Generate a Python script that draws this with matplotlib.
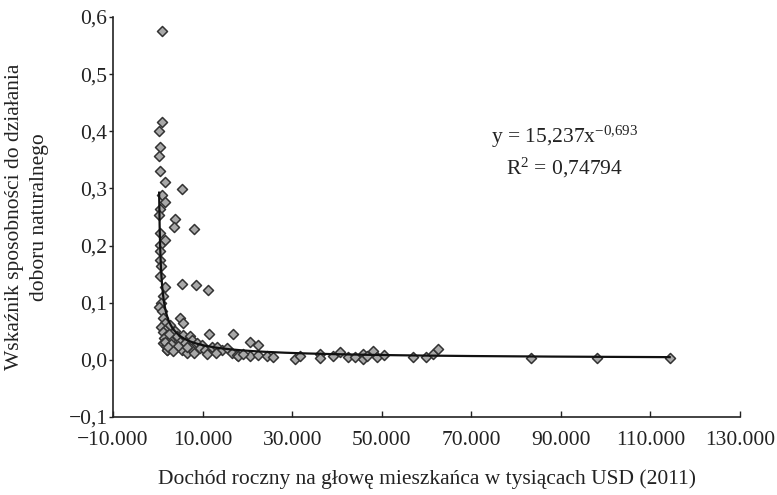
import numpy as np
import matplotlib
matplotlib.use("Agg")
import matplotlib.pyplot as plt
from matplotlib.ticker import FuncFormatter

plt.rcParams['font.family'] = ['Liberation Serif', 'DejaVu Serif']
plt.rcParams['mathtext.fontset'] = 'custom'
plt.rcParams['mathtext.rm'] = 'Liberation Serif'
plt.rcParams['mathtext.it'] = 'Liberation Serif:italic'

# income per capita (USD, 2011)
income = [
    870, 870, 380, 490, 300, 490, 1610, 870, 1610, 490, 380, 490, 1610, 490, 600,
    490, 700, 490, 1610, 1230, 700, 300, 870, 1230, 1610, 800, 1610, 1100, 1990,
    2720, 1400, 2720, 1990, 1200, 1800, 1610, 1990,
    5510, 3840, 3620, 8150, 5470, 8530, 11200, 4950, 5690, 11430, 16850, 20580, 22430,
    3840, 4220, 5690, 7190, 4950, 6070, 7560, 8680, 9800, 3840, 5330, 6450, 7920,
    9420, 10530, 12030, 13140, 14260, 15380, 16490, 17610, 20580, 22430, 17970,
    24300, 25780, 3000, 2500, 4500, 6500, 8000, 11000, 13000, 19000, 2300, 3300,
    30620, 31740, 36200, 36200, 39040, 40670, 42390, 44020, 45730, 45730, 46760,
    48100, 48990, 50490, 57030, 59860, 61360, 62610, 83300, 98100, 114300,
]
# natural selection opportunity index
index_val = [
    0.575, 0.416, 0.400, 0.373, 0.357, 0.330, 0.311, 0.289, 0.277, 0.264, 0.254,
    0.222, 0.210, 0.201, 0.190, 0.175, 0.165, 0.146, 0.128, 0.111, 0.100, 0.093,
    0.085, 0.073, 0.064, 0.058, 0.053, 0.048, 0.044, 0.061, 0.038, 0.035, 0.018,
    0.030, 0.025, 0.032, 0.018,
    0.299, 0.247, 0.232, 0.229, 0.133, 0.131, 0.123, 0.073, 0.064, 0.046, 0.046,
    0.032, 0.026,
    0.050, 0.041, 0.044, 0.041, 0.032, 0.029, 0.035, 0.029, 0.026, 0.020, 0.018,
    0.012, 0.015, 0.020, 0.018, 0.023, 0.023, 0.018, 0.020, 0.012, 0.009, 0.006,
    0.009, 0.006, 0.007, 0.005, 0.027, 0.045, 0.024, 0.022, 0.012, 0.010, 0.012,
    0.010, 0.022, 0.015,
    0.002, 0.006, 0.011, 0.004, 0.007, 0.013, 0.005, 0.005, 0.011, 0.001, 0.007,
    0.015, 0.005, 0.009, 0.005, 0.005, 0.011, 0.019, 0.004, 0.004, 0.004,
]
fit_a = 15.237
fit_b = -0.693

x_ticks = list(range(-10000, 130001, 20000))
y_ticks = [-0.1, 0.0, 0.1, 0.2, 0.3, 0.4, 0.5, 0.6]

fig = plt.figure(figsize=(7.77, 4.95), dpi=100)
ax = fig.add_axes([113/777, 1-417/495, (740-113)/777, (417-17)/495])

ax.scatter(income, index_val, marker='D', s=26, facecolor='#a8a8a8',
           edgecolor='#333333', linewidths=1.1, zorder=3)

xs = np.geomspace(min(income), max(income), 500)
ax.plot(xs, fit_a * xs ** fit_b, color='#111111', lw=1.6, zorder=4)

ax.set_xlim(-10000, 130000)
ax.set_ylim(-0.1, 0.6)
ax.set_xticks(x_ticks)
ax.set_yticks(y_ticks)

def fmt_x(v, pos):
    s = f"{abs(int(round(v))):,}".replace(',', '.')
    return ('\u2212' if v < 0 else '') + s

def fmt_y(v, pos):
    s = f"{abs(v):.1f}".replace('.', ',')
    return ('\u2212' if v < -1e-9 else '') + s

ax.xaxis.set_major_formatter(FuncFormatter(fmt_x))
ax.yaxis.set_major_formatter(FuncFormatter(fmt_y))

for sp in ['top', 'right']:
    ax.spines[sp].set_visible(False)
for sp in ['left', 'bottom']:
    ax.spines[sp].set_color('#222222')
    ax.spines[sp].set_linewidth(1.2)

ax.tick_params(axis='x', direction='in', length=4, width=1, pad=10,
               labelsize=15.5, colors='#222222')
ax.tick_params(axis='y', direction='out', length=3, width=1, pad=1,
               labelsize=15.5, colors='#222222')

ax.set_xlabel('Dochód roczny na głowę mieszkańca w tysiącach USD (2011)',
              fontsize=15.5, labelpad=14, color='#222222')
ax.set_ylabel('Wskaźnik sposobności do działania\ndoboru naturalnego',
              fontsize=15.5, labelpad=14, color='#222222', linespacing=1.45)

eq1 = r'y = 15,237x$^{\mathregular{-0{,}693}}$'
eq2 = r'R$^{\mathregular{2}}$ = 0,74794'
fig.text(565/777, 1-137/495, eq1, ha='center', va='center', fontsize=15.5,
         color='#222222')
fig.text(564/777, 1-168/495, eq2, ha='center', va='center', fontsize=15.5,
         color='#222222')

fig.savefig('out.png', dpi=100)
